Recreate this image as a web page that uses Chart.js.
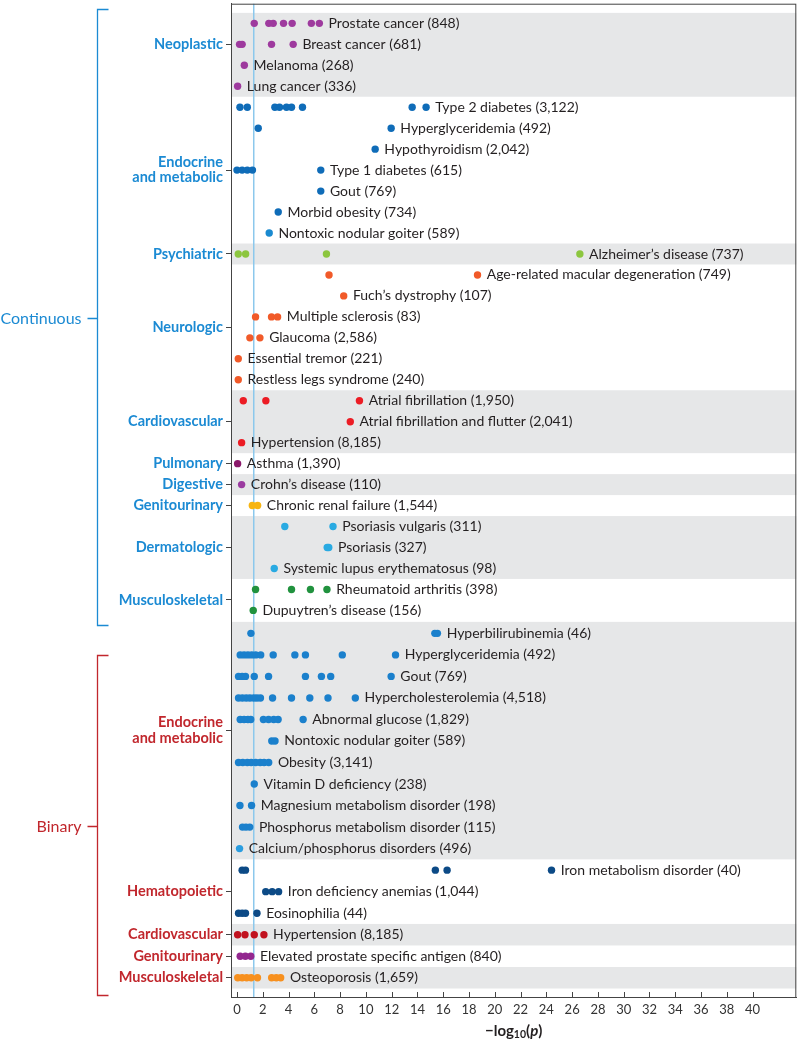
<!DOCTYPE html>
<html>
<head>
<meta charset="utf-8">
<script src="https://cdn.jsdelivr.net/npm/chart.js@4.4.0/dist/chart.umd.min.js"></script>
<style>
  html, body { margin: 0; padding: 0; background: #fff; }
</style>
</head>
<body>
<canvas id="myChart" width="800" height="1040"></canvas>
<script>
// ---- data ----
const traitTypes = ['Continuous', 'Binary'];
const typeCategoryCount = [10, 5];

const categories = ['Neoplastic', 'Endocrine\nand metabolic', 'Psychiatric', 'Neurologic', 'Cardiovascular',
  'Pulmonary', 'Digestive', 'Genitourinary', 'Dermatologic', 'Musculoskeletal',
  'Endocrine\nand metabolic', 'Hematopoietic', 'Cardiovascular', 'Genitourinary', 'Musculoskeletal'];
const categorySize = [4, 7, 1, 6, 3, 1, 1, 1, 3, 2, 11, 3, 1, 1, 1];
// row where each category name sits on the left axis
const categoryLabelRow = [1, 7, 11, 14.5, 19, 21, 22, 23, 25, 27.5, 33.5, 41, 43, 44, 45];

const phenotypes = [
  'Prostate cancer (848)', 'Breast cancer (681)', 'Melanoma (268)', 'Lung cancer (336)',
  'Type 2 diabetes (3,122)', 'Hyperglyceridemia (492)', 'Hypothyroidism (2,042)', 'Type 1 diabetes (615)',
  'Gout (769)', 'Morbid obesity (734)', 'Nontoxic nodular goiter (589)',
  'Alzheimer\u2019s disease (737)',
  'Age-related macular degeneration (749)', 'Fuch\u2019s dystrophy (107)', 'Multiple sclerosis (83)',
  'Glaucoma (2,586)', 'Essential tremor (221)', 'Restless legs syndrome (240)',
  'Atrial fibrillation (1,950)', 'Atrial fibrillation and flutter (2,041)', 'Hypertension (8,185)',
  'Asthma (1,390)',
  'Crohn\u2019s disease (110)',
  'Chronic renal failure (1,544)',
  'Psoriasis vulgaris (311)', 'Psoriasis (327)', 'Systemic lupus erythematosus (98)',
  'Rheumatoid arthritis (398)', 'Dupuytren\u2019s disease (156)',
  'Hyperbilirubinemia (46)', 'Hyperglyceridemia (492)', 'Gout (769)', 'Hypercholesterolemia (4,518)',
  'Abnormal glucose (1,829)', 'Nontoxic nodular goiter (589)', 'Obesity (3,141)', 'Vitamin D deficiency (238)',
  'Magnesium metabolism disorder (198)', 'Phosphorus metabolism disorder (115)', 'Calcium/phosphorus disorders (496)',
  'Iron metabolism disorder (40)', 'Iron deficiency anemias (1,044)', 'Eosinophilia (44)',
  'Hypertension (8,185)',
  'Elevated prostate specific antigen (840)',
  'Osteoporosis (1,659)'
];

// -log10(p) of each association, one list per phenotype
const logP = [
  [1.34, 2.47, 2.81, 3.61, 4.28, 5.77, 6.39],
  [0.2, 0.4, 2.68, 4.36],
  [0.57],
  [0.05],
  [0.23, 0.8, 2.94, 3.3, 3.84, 4.23, 5.08, 13.59, 14.67],
  [1.65, 11.96],
  [10.72],
  [0.0, 0.4, 0.8, 1.2, 6.5],
  [6.5],
  [3.2],
  [2.5],
  [0.1, 0.67, 6.94, 26.6],
  [7.14, 18.66],
  [8.28],
  [1.44, 2.68, 3.15],
  [1.0, 1.78],
  [0.1],
  [0.1],
  [0.49, 2.24, 9.5],
  [8.79],
  [0.36],
  [0.05],
  [0.36],
  [1.19, 1.6],
  [3.71, 7.45],
  [7.0, 7.12],
  [2.89],
  [1.44, 4.23, 5.7, 6.98],
  [1.26],
  [1.08, 15.35, 15.55],
  [0.25, 0.55, 0.85, 1.15, 1.45, 1.84, 2.81, 4.49, 5.31, 8.17, 12.3],
  [0.12, 0.4, 0.66, 1.34, 2.45, 5.31, 6.55, 7.27, 11.96],
  [0.12, 0.42, 0.72, 1.0, 1.3, 1.55, 1.82, 2.76, 4.23, 5.65, 7.06, 9.18],
  [0.25, 0.55, 0.85, 1.07, 2.05, 2.45, 2.85, 3.19, 5.13],
  [2.7, 2.95],
  [0.12, 0.45, 0.8, 1.1, 1.45, 1.8, 2.1, 2.46],
  [1.34],
  [0.23, 1.13],
  [0.43, 0.7, 0.99],
  [0.2],
  [0.4, 0.66, 15.39, 16.3, 24.4],
  [2.23, 2.73, 3.23],
  [0.12, 0.4, 0.66, 1.55],
  [0.05, 0.62, 1.34, 2.09],
  [0.25, 0.65, 1.07],
  [0.06, 0.4, 0.75, 1.1, 1.59, 2.69, 3.05, 3.39]
];

const xTicks = [0, 2, 4, 6, 8, 10, 12, 14, 16, 18, 20, 22, 24, 26, 28, 30, 32, 34, 36, 38, 40];
const threshold = 1.3; // p = 0.05

// ---- styles / layout ----
const typeColor = ['#1b8ad3', '#c1272d'];
const bandColor = '#e6e7e8';
const rowColors = [
  '#9e3a9e', '#9e3a9e', '#9e3a9e', '#9e3a9e',
  '#0f6cb8', '#0f6cb8', '#0f6cb8', '#0f6cb8', '#0f6cb8', '#0f6cb8', '#1a8ad0',
  '#8cc63f',
  '#f15a29', '#f15a29', '#f15a29', '#f15a29', '#f15a29', '#f15a29',
  '#ec1c24', '#ec1c24', '#ec1c24',
  '#8b1a6b',
  '#9b3ba0',
  '#f7b512',
  '#29aae2', '#29aae2', '#29aae2',
  '#21923e', '#21923e',
  '#1b80cc', '#1b80cc', '#1b80cc', '#1b80cc', '#1b80cc', '#1b80cc', '#1b80cc', '#1b80cc', '#1b80cc', '#1b80cc', '#2a9de0',
  '#0c4a86', '#0c4a86', '#0c4a86',
  '#c1121f',
  '#93278f',
  '#f7901e'
];
const bracketSpan = [[-0.69, 28.68], [30.11, 46.35]];
const dotRadius = 3.7;
const font = 'Lato, "Open Sans", sans-serif';

// binary rows sit slightly wider apart than continuous ones
const nContinuousRows = 29;
function rowPos(r) {
  return r < nContinuousRows ? r : 29.095 + (r - nContinuousRows) * 1.0267;
}
function rowEdge(r) {
  // boundary between row r-1 and row r
  if (r <= 0) return rowPos(0) - 0.5;
  if (r >= phenotypes.length) return rowPos(phenotypes.length - 1) + 0.513;
  return (rowPos(r - 1) + rowPos(r)) / 2;
}

Chart.defaults.font.family = font;

function categoryType(i) {
  return i < typeCategoryCount[0] ? 0 : 1;
}

const decorations = {
  id: 'decorations',
  beforeDraw(chart) {
    const {ctx, chartArea: a, scales: {y}} = chart;
    ctx.save();
    let start = 0;
    categorySize.forEach((n, i) => {
      if (i % 2 === 0) {
        const top = y.getPixelForValue(rowEdge(start));
        const bot = y.getPixelForValue(rowEdge(start + n));
        ctx.fillStyle = bandColor;
        ctx.fillRect(a.left, top, a.right - a.left, bot - top);
      }
      start += n;
    });
    ctx.restore();
  },
  beforeDatasetsDraw(chart) {
    const {ctx, chartArea: a, scales: {x}} = chart;
    const px = x.getPixelForValue(threshold);
    ctx.save();
    ctx.strokeStyle = '#8cc8ec';
    ctx.lineWidth = 1.5;
    ctx.beginPath();
    ctx.moveTo(px, a.top);
    ctx.lineTo(px, a.bottom);
    ctx.stroke();
    ctx.restore();
  },
  afterDraw(chart) {
    const {ctx, chartArea: a, scales: {x, y}} = chart;
    ctx.save();

    // frame
    ctx.strokeStyle = '#444';
    ctx.lineWidth = 1;
    ctx.strokeRect(a.left + 0.5, a.top + 0.5, a.right - a.left - 1, a.bottom - a.top);

    // inward ticks on x axis
    ctx.beginPath();
    xTicks.forEach(v => {
      const px = Math.round(x.getPixelForValue(v)) + 0.5;
      ctx.moveTo(px, a.bottom);
      ctx.lineTo(px, a.bottom - 5);
    });
    ctx.stroke();

    // phenotype labels next to the right-most dot
    ctx.font = '14px ' + font;
    ctx.fillStyle = '#231f20';
    ctx.textBaseline = 'middle';
    ctx.textAlign = 'left';
    phenotypes.forEach((name, i) => {
      const px = x.getPixelForValue(Math.max(...logP[i]));
      ctx.fillText(name, px + dotRadius + 5.5, y.getPixelForValue(rowPos(i)));
    });

    // brackets for trait type
    bracketSpan.forEach((s, i) => {
      const top = Math.round(y.getPixelForValue(s[0])) + 0.5;
      const bot = Math.round(y.getPixelForValue(s[1])) + 0.5;
      const mid = Math.round((top + bot) / 2) + 0.5;
      const bx = 97.5;
      ctx.strokeStyle = typeColor[i];
      ctx.lineWidth = 1.3;
      ctx.beginPath();
      ctx.moveTo(bx + 11, top);
      ctx.lineTo(bx, top);
      ctx.lineTo(bx, bot);
      ctx.lineTo(bx + 11, bot);
      ctx.moveTo(bx, mid);
      ctx.lineTo(bx - 10, mid);
      ctx.stroke();
      ctx.fillStyle = typeColor[i];
      ctx.font = '16px ' + font;
      ctx.textAlign = 'right';
      ctx.fillText(traitTypes[i], bx - 16, mid);
    });

    // axis title: -log10(p)
    const parts = [
      ['\u2212log', 'bold 15px ', 0],
      ['10', 'bold 10.5px ', 4],
      ['(', 'bold 15px ', 0],
      ['p', 'italic bold 15px ', 0],
      [')', 'bold 15px ', 0]
    ];
    let w = 0;
    parts.forEach(p => { ctx.font = p[1] + font; w += ctx.measureText(p[0]).width; });
    let tx = (a.left + a.right) / 2 - w / 2;
    const ty = 1031;
    ctx.fillStyle = '#231f20';
    ctx.textAlign = 'left';
    parts.forEach(p => {
      ctx.font = p[1] + font;
      ctx.fillText(p[0], tx, ty + p[2]);
      tx += ctx.measureText(p[0]).width;
    });
    ctx.restore();
  }
};

const datasets = phenotypes.map((name, i) => ({
  label: name,
  data: logP[i].map(v => ({x: v, y: rowPos(i)})),
  backgroundColor: rowColors[i],
  borderWidth: 0,
  pointRadius: dotRadius,
  pointHoverRadius: dotRadius
}));

const ctx = document.querySelector('#myChart').getContext('2d');
const chart = new Chart(ctx, {
  type: 'scatter',
  data: { datasets: datasets },
  options: {
    responsive: false,
    animation: false,
    events: [],
    layout: { padding: { top: 2, right: 2, left: 0, bottom: 0 } },
    plugins: {
      legend: { display: false },
      tooltip: { enabled: false }
    },
    scales: {
      x: {
        type: 'linear',
        min: -0.464,
        max: 43.39,
        afterBuildTicks: s => { s.ticks = xTicks.map(v => ({value: v})); },
        afterFit: s => { s.height = 43; s.paddingLeft = 0; s.paddingRight = 0; },
        grid: { drawOnChartArea: false, drawTicks: false },
        border: { color: '#444' },
        ticks: { padding: 5, color: '#333', font: { size: 13 }, autoSkip: false, maxRotation: 0 }
      },
      y: {
        type: 'linear',
        reverse: true,
        min: -0.938,
        max: 46.44,
        afterBuildTicks: s => { s.ticks = categoryLabelRow.map(v => ({value: rowPos(v)})); },
        afterFit: s => { s.width = 231; s.paddingTop = 0; s.paddingBottom = 0; },
        grid: { drawOnChartArea: false, tickLength: 5, color: '#444' },
        border: { color: '#444' },
        ticks: {
          autoSkip: false,
          padding: 3,
          font: { weight: 'bold', size: 14.5, lineHeight: 1.05 },
          color: c => typeColor[categoryType(c.index)],
          callback: (v, i) => categories[i].split('\n')
        }
      }
    }
  },
  plugins: [decorations]
});
</script>
</body>
</html>
